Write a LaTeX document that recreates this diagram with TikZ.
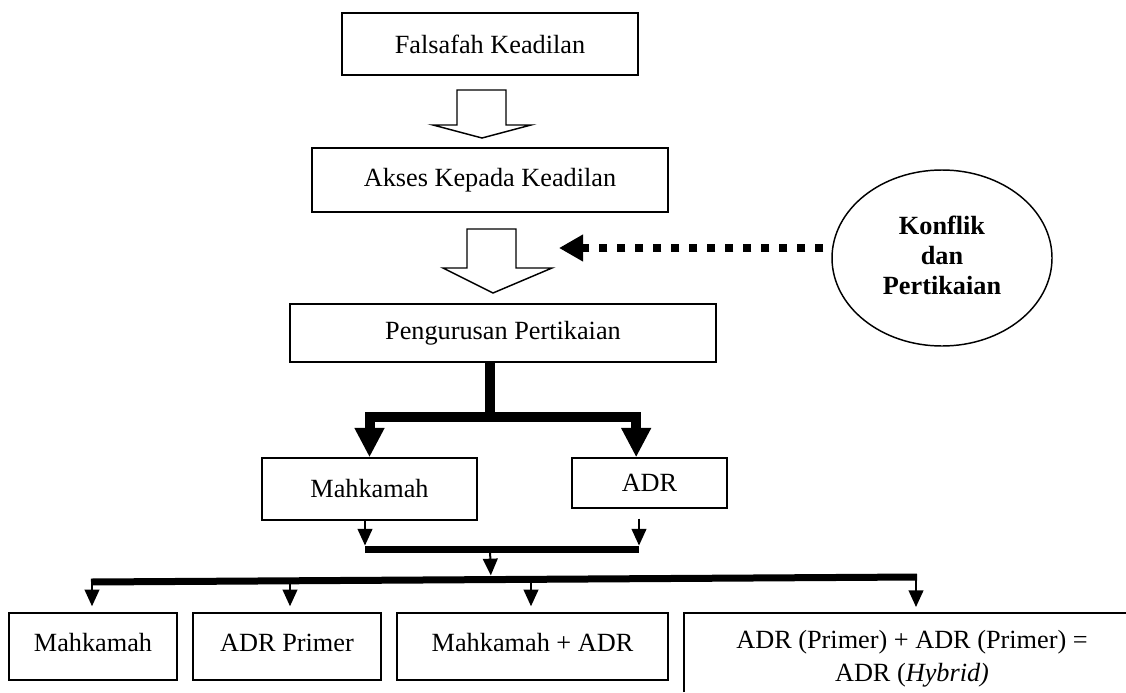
\documentclass[tikz,border=0pt]{standalone}
\usepackage{fontspec}
\setmainfont{Liberation Serif}
\usetikzlibrary{arrows.meta,shapes.geometric}

\begin{document}
\begin{tikzpicture}[x=0.75pt,y=-0.75pt,
	box/.style={draw, line width=1.1pt, inner sep=0pt, font=\fontsize{19.7}{23.6}\selectfont},
	lowbox/.style={box, minimum height=50.25pt, text height=13.6pt, text depth=6pt},
	hollow/.style={draw, line width=1.1pt, line join=miter, fill=white},
	thickarr/.style={line width=7.5pt, line join=miter, -{Triangle[width=21pt,length=22pt]}},
	thinarr/.style={line width=1.5pt, -{Triangle[width=11pt,length=12.5pt]}},
	dotarr/.style={line width=6pt, dash pattern=on 6pt off 7.5pt, -{Triangle[width=19pt,length=18pt]}},
	bar/.style={line width=5.25pt}]

	\useasboundingbox (0,0) rectangle (1126,692);

	% Draw boxes
	\node[box, minimum width=222pt, minimum height=46.5pt] (fals) at (490,44) {Falsafah Keadilan};
	\node[box, minimum width=267pt, minimum height=48pt] (akses) at (490,180) {Akses Kepada Keadilan};
	\node[box, minimum width=319.5pt, minimum height=43.5pt] (peng) at (503,333) {Pengurusan Pertikaian};
	\node[draw, line width=1.1pt, ellipse, minimum width=165pt, minimum height=132pt,
		font=\bfseries\fontsize{19.7}{22.5}\selectfont] (konflik) at (942,258)
		{\raisebox{4.5pt}{\begin{tabular}{@{}c@{}}Konflik\\dan\\Pertikaian\end{tabular}}};
	\node[box, minimum width=161.25pt, minimum height=46.5pt] (mahk) at (369.5,489) {Mahkamah};
	\node[box, minimum width=116.25pt, minimum height=37.5pt] (adr) at (649.5,483) {ADR};
	\node[lowbox, minimum width=126pt] (mahkb) at (93,646.5) {Mahkamah};
	\node[lowbox, minimum width=141pt] (primer) at (287,646.5) {ADR Primer};
	\node[lowbox, minimum width=203.25pt] (gabung) at (532.5,646.5) {Mahkamah + ADR};
	\node[align=center, font=\fontsize{19.7}{24.75}\selectfont] (hybrid) at (912,658.5) {ADR (Primer) + ADR (Primer) =\\ADR (\textit{Hybrid)}};
	\draw[line width=1.1pt] (684,692) -- (684,613) -- (1126,613);

	% Draw hollow arrows
	\draw[hollow] (457,90) -- (506,90) -- (506,125) -- (531,125) -- (482,138) -- (433,125) -- (457,125) -- cycle;
	\draw[hollow] (467,229) -- (516,229) -- (516,268) -- (552,268) -- (493,293) -- (443,268) -- (467,268) -- cycle;

	% Draw dotted arrow
	\coordinate (dottip) at (559,248);
	\draw[dotarr, shorten <=6pt] ([yshift=7.5pt]konflik.west) -- (dottip);

	% Draw thick tree
	\coordinate (j1) at (490,417);
	\draw[thickarr] (j1 |- peng.south) -- (j1) -| (mahk.north);
	\draw[thickarr] (j1) -| ([xshift=-10pt]adr.north);

	% Draw middle bar
	\coordinate (m2) at (365,549);
	\coordinate (a2) at (639,549);
	\coordinate (s2) at (490,549);
	\draw[thinarr, shorten >=2.6pt] (m2 |- mahk.south) -- (m2);
	\draw[thinarr, shorten <=7.5pt, shorten >=2.6pt] (a2 |- adr.south) -- (a2);
	\draw[bar] (m2) -- (a2);
	\coordinate (j3) at (491,580);
	\draw[thinarr, shorten >=3.5pt] (s2) -- (j3);

	% Draw bottom bar
	\coordinate (t1) at (92,582);
	\coordinate (t2) at (290,581);
	\coordinate (t3) at (531,579.5);
	\coordinate (t4) at (916,577);
	\coordinate (hybtop) at (916,613);
	\draw[bar] (91,582) -- (917,577);
	\draw[thinarr, shorten >=4.5pt] (t1) -- (t1 |- mahkb.north);
	\draw[thinarr, shorten >=4.5pt] (t2) -- (t2 |- primer.north);
	\draw[thinarr, shorten >=4.5pt] (t3) -- (t3 |- gabung.north);
	\draw[thinarr, shorten >=4.5pt] (t4) -- (hybtop);

\end{tikzpicture}
\end{document}
